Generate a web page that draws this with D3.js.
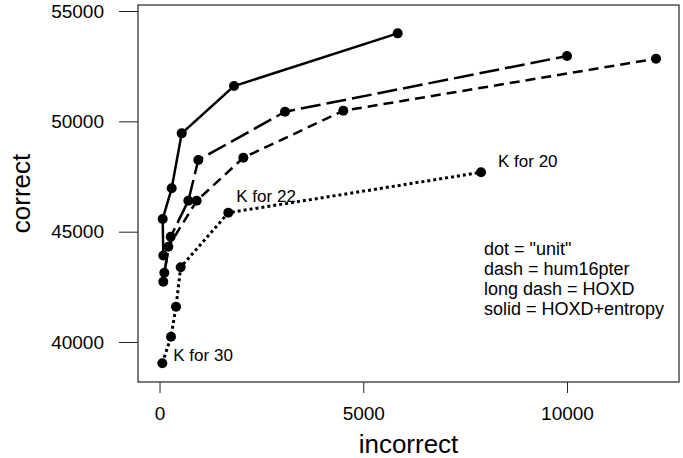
<!DOCTYPE html>
<meta charset="utf-8">
<style>
    body { margin: 0; background: #fff; }
    text { font-family: "Liberation Sans", Arial, Helvetica, sans-serif; fill: #000; }
    .tick text { font-size: 19px; }
    .axis-title { font-size: 26px; }
    .note { font-size: 17px; }
    .legend { font-size: 18px; }
</style>
<svg width="683" height="458"></svg>
<script src="https://d3js.org/d3.v7.min.js"></script>
<script>

    // values (incorrect, correct), one pair of arrays per method
    var unitIncorrect = [69, 282, 405, 520, 1688, 7890];
    var unitCorrect = [39035, 40240, 41600, 43385, 45858, 47689];

    var humIncorrect = [93, 216, 913, 2057, 4510, 12184];
    var humCorrect = [42732, 44318, 46402, 48351, 50480, 52837];

    var hoxdIncorrect = [118, 275, 707, 952, 3080, 10000];
    var hoxdCorrect = [43140, 44772, 46402, 48246, 50435, 52960];

    var entropyIncorrect = [93, 78, 299, 545, 1828, 5845];
    var entropyCorrect = [43919, 45573, 46964, 49456, 51600, 53987];

    var xTicks = [0, 5000, 10000];
    var yTicks = [40000, 45000, 50000, 55000];

    var legendLines = ['dot = "unit"', "dash = hum16pter", "long dash = HOXD", "solid = HOXD+entropy"];

    // K labels on the "unit" series: index of point and text
    var kLabels = [
        {i: 0, text: "K for 30", dx: 11, dy: -2},
        {i: 4, text: "K for 22", dx: 8, dy: -11},
        {i: 5, text: "K for 20", dx: 17, dy: -5}
    ];

    function zip(xs, ys) {
        return xs.map(function (x, i) { return {x: x, y: ys[i]}; });
    }

    var series = [
        {name: "unit", points: zip(unitIncorrect, unitCorrect), dash: "3,3", width: 3},
        {name: "hum16pter", points: zip(humIncorrect, humCorrect), dash: "10,6", width: 2.5},
        {name: "HOXD", points: zip(hoxdIncorrect, hoxdCorrect), dash: "20,6", width: 2.5},
        {name: "HOXD+entropy", points: zip(entropyIncorrect, entropyCorrect), dash: null, width: 2.5}
    ];

    var svg = d3.select("svg"),
        plotLeft = 138, plotRight = 679, plotTop = 5, plotBottom = 382;

    var x = d3.scaleLinear().domain([-528, 12748]).range([plotLeft, plotRight]);
    var y = d3.scaleLinear().domain([38188, 55272]).range([plotBottom, plotTop]);

    // axes
    var yAxis = svg.append("g")
        .attr("transform", "translate(" + plotLeft + ",0)")
        .call(d3.axisLeft(y).tickValues(yTicks).tickSize(19).tickSizeOuter(0).tickPadding(15).tickFormat(d3.format("d")));
    yAxis.select(".domain").remove();

    var xAxis = svg.append("g")
        .attr("transform", "translate(0," + plotBottom + ")")
        .call(d3.axisBottom(x).tickValues(xTicks).tickSize(11).tickSizeOuter(0).tickPadding(13.5).tickFormat(d3.format("d")));
    xAxis.select(".domain").remove();

    svg.selectAll(".tick line").attr("stroke", "#222").attr("stroke-width", 1);
    svg.selectAll(".tick text").attr("fill", "#000");

    // box
    svg.append("rect")
        .attr("x", plotLeft).attr("y", plotTop)
        .attr("width", plotRight - plotLeft).attr("height", plotBottom - plotTop)
        .attr("fill", "none").attr("stroke", "#222").attr("stroke-width", 1.2);

    // axis titles
    svg.append("text")
        .attr("class", "axis-title")
        .attr("x", (plotLeft + plotRight) / 2)
        .attr("y", 453)
        .attr("text-anchor", "middle")
        .text("incorrect");

    svg.append("text")
        .attr("class", "axis-title")
        .attr("transform", "translate(30," + (plotTop + plotBottom) / 2 + ") rotate(-90)")
        .attr("text-anchor", "middle")
        .text("correct");

    var line = d3.line()
        .x(function (d) { return x(d.x); })
        .y(function (d) { return y(d.y); });

    var g = svg.append("g");

    series.forEach(function (s) {
        g.append("path")
            .datum(s.points)
            .attr("d", line)
            .attr("fill", "none")
            .attr("stroke", "#000")
            .attr("stroke-width", s.width)
            .attr("stroke-dasharray", s.dash);

        g.selectAll(null)
            .data(s.points)
            .enter().append("circle")
            .attr("cx", function (d) { return x(d.x); })
            .attr("cy", function (d) { return y(d.y); })
            .attr("r", 5)
            .attr("fill", "#000");
    });

    // K labels
    var unitPts = series[0].points;
    svg.selectAll(".note")
        .data(kLabels)
        .enter().append("text")
        .attr("class", "note")
        .attr("x", function (d) { return x(unitPts[d.i].x) + d.dx; })
        .attr("y", function (d) { return y(unitPts[d.i].y) + d.dy; })
        .text(function (d) { return d.text; });

    // legend text
    svg.selectAll(".legend")
        .data(legendLines)
        .enter().append("text")
        .attr("class", "legend")
        .attr("x", 484)
        .attr("y", function (d, i) { return 255 + i * 20; })
        .text(function (d) { return d; });

</script>
